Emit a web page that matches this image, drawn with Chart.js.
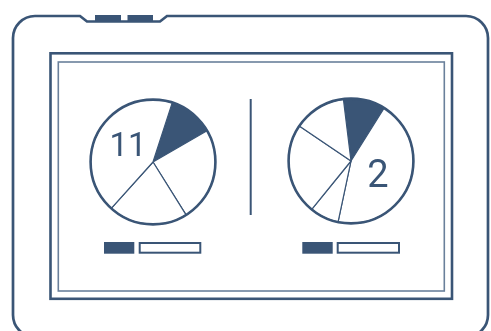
<!DOCTYPE html>
<html>
<head>
<meta charset="utf-8">
<script src="https://cdn.jsdelivr.net/npm/chart.js@4.4.0/dist/chart.umd.min.js"></script>
<style>
  html, body { margin: 0; padding: 0; background: #fff; }
  #stage { position: relative; width: 491px; height: 331px; overflow: hidden; }
  #frame { position: absolute; left: 0; top: 0; }
  .pie { position: absolute; width: 136px; height: 136px; }
</style>
</head>
<body>
<div id="stage">
  <svg id="frame" width="491" height="331" viewBox="0 0 491 331">
    <!-- device body with top notch -->
    <path d="M35 16 H80 L87 21.5 H160 L167 16 H466 A22 22 0 0 1 488 38 V315 A22 22 0 0 1 466 337 H35 A22 22 0 0 1 13 315 V38 A22 22 0 0 1 35 16 Z"
          fill="none" stroke="#3a5576" stroke-width="2.7"/>
    <rect x="95" y="15" width="26" height="7" fill="#3a5576"/>
    <rect x="127.5" y="15" width="25.5" height="7" fill="#3a5576"/>
    <!-- screen -->
    <rect x="50.5" y="53.3" width="401.5" height="245.5" fill="none" stroke="#3a5576" stroke-width="2.6"/>
    <rect x="58.3" y="62" width="386" height="229" fill="none" stroke="#6a809b" stroke-width="1.6"/>
    <!-- separator -->
    <line x1="250.7" y1="99" x2="250.7" y2="215" stroke="#3a5576" stroke-width="2"/>
    <!-- legend bars -->
    <rect x="104" y="242" width="30.3" height="11.7" fill="#3a5576"/>
    <rect x="139.7" y="243" width="60.6" height="9.7" fill="none" stroke="#3a5576" stroke-width="2"/>
    <rect x="302.3" y="242" width="30.4" height="11.7" fill="#3a5576"/>
    <rect x="337.7" y="243" width="61.3" height="9.7" fill="none" stroke="#3a5576" stroke-width="2"/>
  </svg>
  <div class="pie" style="left:85px; top:93.5px;"><canvas id="pieLeft"></canvas></div>
  <div class="pie" style="left:282.5px; top:93px;"><canvas id="pieRight"></canvas></div>
</div>
<script>
// slice sizes (degrees of the circle)
var leftSlices = ['a', 'b', 'c', 'd'];
var leftValues = [42, 88, 74, 156];
var rightSlices = ['a', 'b', 'c', 'd', 'e'];
var rightValues = [39, 160, 27, 85, 49];
// big numbers written inside the largest slice
var leftLabel = '11';
var rightLabel = '2';

var navy = '#3a5576';

function sliceColors(n) {
    var c = [];
    for (var i = 0; i < n; i++) c.push(i == 0 ? navy : '#ffffff');
    return c;
}

// outer ring + number label
var ringPlugin = {
    id: 'ring',
    afterDatasetsDraw: function(chart, args, opts) {
        var meta = chart.getDatasetMeta(0);
        var arcs = meta.data;
        var ctx = chart.ctx;
        var a0 = arcs[0];
        ctx.save();
        ctx.beginPath();
        ctx.arc(a0.x, a0.y, a0.outerRadius, 0, Math.PI * 2);
        ctx.lineWidth = 2.6;
        ctx.strokeStyle = navy;
        ctx.stroke();

        // label sits in the biggest slice
        var vals = chart.data.datasets[0].data;
        var big = 0;
        for (var i = 1; i < vals.length; i++) if (vals[i] > vals[big]) big = i;
        var p = arcs[big].getCenterPoint();
        ctx.font = '400 ' + opts.size + 'px Roboto';
        ctx.fillStyle = navy;
        ctx.textAlign = 'center';
        ctx.textBaseline = 'alphabetic';
        var m = ctx.measureText(opts.text);
        var h = m.actualBoundingBoxAscent;
        ctx.fillText(opts.text, p.x + opts.dx, p.y + opts.dy + h / 2);
        ctx.restore();
    }
};

function build_pie(id, labels, values, rotation, text, size, dx, dy) {
    var ctx = document.getElementById(id).getContext('2d');
    return new Chart(ctx, {
        type: 'pie',
        data: {
            labels: labels,
            datasets: [{
                data: values,
                backgroundColor: sliceColors(values.length),
                borderColor: navy,
                borderWidth: 1.2
            }]
        },
        options: {
            responsive: true,
            maintainAspectRatio: false,
            animation: false,
            rotation: rotation,
            layout: { padding: 5 },
            events: [],
            plugins: {
                legend: { display: false },
                tooltip: { enabled: false },
                ring: { text: text, size: size, dx: dx, dy: dy }
            }
        },
        plugins: [ringPlugin]
    });
}

window.onload = function() {
    build_pie('pieLeft', leftSlices, leftValues, 18, leftLabel, 33, 2, -2);
    build_pie('pieRight', rightSlices, rightValues, -7, rightLabel, 38, -2, 0.5);
};
</script>
</body>
</html>
